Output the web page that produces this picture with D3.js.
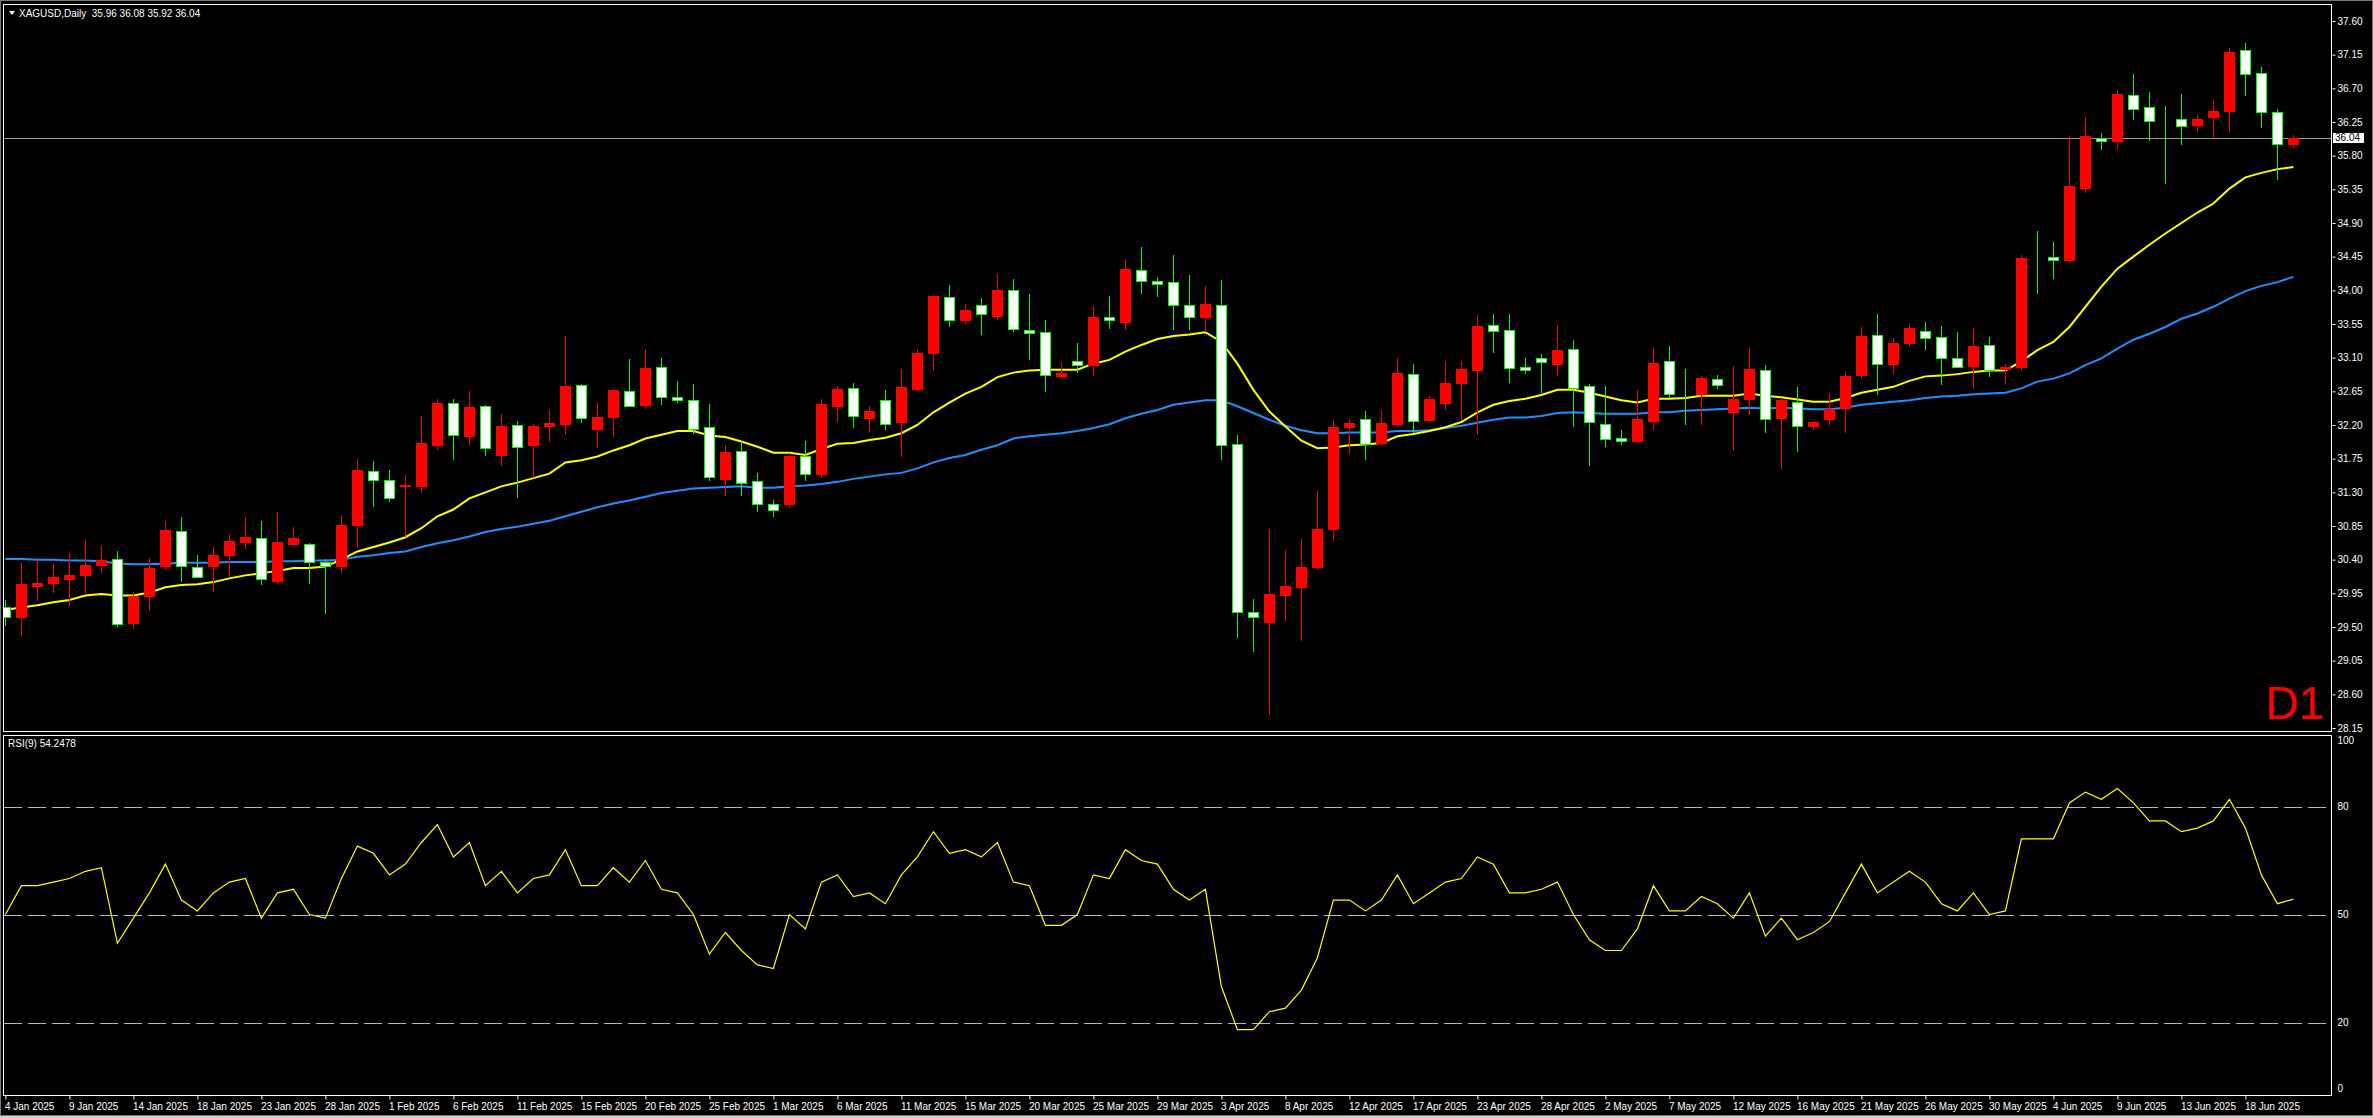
<!DOCTYPE html>
<html><head><meta charset="utf-8">
<script src="https://cdn.jsdelivr.net/npm/d3@7"></script>
<style>
html,body{margin:0;padding:0;background:#000;overflow:hidden}
text{font-family:"Liberation Sans",Arial,sans-serif}
</style></head>
<body><svg id="c" width="2373" height="1118"></svg>
<script>
// ---------------- data ----------------
const symbolTitle = "XAGUSD,Daily  35.96 36.08 35.92 36.04";
const rsiTitle = "RSI(9) 54.2478";
const dateLabels = ["4 Jan 2025","9 Jan 2025","14 Jan 2025","18 Jan 2025","23 Jan 2025","28 Jan 2025",
 "1 Feb 2025","6 Feb 2025","11 Feb 2025","15 Feb 2025","20 Feb 2025","25 Feb 2025",
 "1 Mar 2025","6 Mar 2025","11 Mar 2025","15 Mar 2025","20 Mar 2025","25 Mar 2025","29 Mar 2025",
 "3 Apr 2025","8 Apr 2025","12 Apr 2025","17 Apr 2025","23 Apr 2025","28 Apr 2025",
 "2 May 2025","7 May 2025","12 May 2025","16 May 2025","21 May 2025","26 May 2025","30 May 2025",
 "4 Jun 2025","9 Jun 2025","13 Jun 2025","18 Jun 2025"];
const priceTicks = [37.60,37.15,36.70,36.25,35.80,35.35,34.90,34.45,34.00,33.55,33.10,32.65,32.20,31.75,31.30,30.85,30.40,29.95,29.50,29.05,28.60,28.15];
const rsiTicks = [100,80,50,20,0];
const rsiLevels = [80,50,20];
const lastPrice = 36.04;

const open = [29.77,29.64,30.05,30.09,30.14,30.20,30.33,30.41,29.56,29.92,30.31,30.78,30.30,30.32,30.46,30.64,30.69,30.12,30.61,30.61,
30.37,30.31,30.86,31.58,31.47,31.38,31.39,31.93,32.50,32.05,32.45,31.80,32.20,31.93,32.19,32.22,32.73,32.14,32.31,32.66,
32.47,32.98,32.57,32.53,32.17,31.48,31.85,31.45,31.15,31.15,31.79,31.55,32.46,32.70,32.30,32.53,32.24,32.68,33.16,33.91,
33.60,33.80,33.66,34.00,33.47,33.44,32.86,33.05,33.00,33.65,33.58,34.27,34.12,34.11,33.81,33.65,33.81,31.94,29.70,29.57,
29.93,30.03,30.30,30.81,32.17,32.28,31.96,32.22,32.88,32.27,32.50,32.76,32.94,33.53,33.47,32.97,33.09,33.02,33.21,32.72,
32.22,32.02,31.99,32.26,33.05,32.63,32.61,32.82,32.38,32.55,32.94,32.30,32.51,32.18,32.28,32.43,32.87,33.40,33.02,33.29,
33.45,33.37,33.09,32.99,33.27,32.95,32.98,34.44,34.44,34.41,35.37,36.04,36.00,36.61,36.45,36.28,36.29,36.21,36.32,36.40,
37.21,36.90,36.38,35.96];
const high = [29.86,30.35,30.40,30.34,30.49,30.66,30.58,30.52,29.97,30.42,30.92,30.97,30.46,30.57,30.74,30.97,30.92,31.04,30.84,30.62,
30.41,30.98,31.75,31.72,31.60,31.53,32.32,32.55,32.55,32.65,32.47,32.35,32.25,32.21,32.40,33.39,32.75,32.49,32.68,33.08,
33.21,33.10,32.79,32.75,32.48,31.93,31.98,31.56,31.20,31.82,31.99,32.55,32.72,32.76,32.45,32.67,32.95,33.22,33.94,34.07,
33.82,33.90,34.22,34.15,33.95,33.60,33.04,33.30,33.79,33.92,34.41,34.58,34.18,34.47,34.20,34.06,34.14,32.06,29.88,30.81,
30.53,30.68,31.32,32.27,32.28,32.39,32.40,33.10,33.02,32.59,33.06,33.06,33.67,33.68,33.68,33.10,33.15,33.54,33.33,32.75,
32.72,32.13,32.67,33.23,33.26,32.95,32.85,32.87,32.99,33.23,33.00,32.55,32.71,32.26,32.63,32.91,33.51,33.69,33.36,33.55,
33.58,33.52,33.44,33.50,33.38,33.02,34.47,34.79,34.65,36.06,36.32,36.10,36.68,36.89,36.65,36.46,36.62,36.34,36.54,37.24,
37.31,36.98,36.43,36.08];
const low = [29.53,29.39,29.86,29.97,29.80,29.95,30.24,29.51,29.49,29.73,30.27,30.12,30.17,29.98,30.18,30.56,30.08,30.09,30.60,30.09,
29.69,30.23,30.57,31.12,31.19,30.71,31.30,31.88,31.74,31.95,31.80,31.67,31.24,31.51,31.98,32.08,32.24,31.91,32.05,32.46,
32.43,32.48,32.51,32.09,31.47,31.26,31.26,31.05,30.98,31.11,31.47,31.50,32.26,32.17,32.10,32.15,31.79,32.67,32.93,33.52,
33.57,33.42,33.62,33.45,33.08,32.66,32.84,32.91,32.87,33.50,33.48,33.97,33.92,33.48,33.48,33.45,31.75,29.36,29.18,28.34,
29.59,29.33,30.28,30.68,31.83,31.74,31.93,32.19,32.11,32.25,32.42,32.27,32.08,33.17,32.77,32.90,32.64,32.87,32.18,31.67,
31.92,31.95,31.98,32.15,32.57,32.22,32.22,32.69,31.87,32.35,32.11,31.63,31.85,32.15,32.22,32.11,32.83,32.61,32.89,33.26,
33.22,32.75,32.97,32.69,32.86,32.76,32.94,33.96,34.17,34.38,35.31,35.89,35.89,36.29,36.01,35.43,35.96,36.13,36.05,36.13,
36.61,36.18,35.49,35.92];
const close = [29.63,30.08,30.09,30.17,30.20,30.33,30.39,29.54,29.92,30.29,30.80,30.31,30.17,30.46,30.65,30.70,30.14,30.64,30.69,30.37,
30.32,30.86,31.60,31.47,31.23,31.40,31.96,32.49,32.06,32.44,31.89,32.19,31.91,32.19,32.23,32.72,32.29,32.31,32.67,32.46,
32.96,32.58,32.54,32.15,31.50,31.84,31.43,31.14,31.06,31.78,31.54,32.48,32.68,32.32,32.39,32.22,32.71,33.16,33.92,33.61,
33.74,33.68,34.00,33.48,33.43,32.87,32.90,33.00,33.64,33.60,34.29,34.13,34.08,33.80,33.64,33.82,31.93,29.70,29.64,29.94,
30.05,30.30,30.81,32.17,32.23,31.95,32.23,32.89,32.26,32.55,32.76,32.95,33.52,33.45,32.96,32.93,33.04,33.20,32.70,32.24,
32.01,31.98,32.28,33.03,32.62,32.63,32.83,32.74,32.55,32.95,32.28,32.53,32.18,32.24,32.41,32.86,33.39,33.01,33.30,33.50,
33.36,33.09,32.98,33.26,32.94,32.97,34.43,34.44,34.40,35.39,36.06,35.99,36.62,36.42,36.26,36.28,36.19,36.29,36.40,37.19,
36.89,36.38,35.95,36.04];
const maFast = [29.73,29.76,29.79,29.83,29.86,29.92,29.94,29.92,29.92,29.96,30.03,30.06,30.07,30.10,30.15,30.19,30.22,30.25,30.29,30.29,
30.31,30.40,30.51,30.57,30.63,30.70,30.82,30.98,31.07,31.22,31.30,31.38,31.43,31.49,31.55,31.70,31.73,31.78,31.86,31.93,
32.02,32.07,32.12,32.12,32.06,32.04,31.98,31.91,31.83,31.83,31.80,31.88,31.95,31.96,32.00,32.03,32.09,32.20,32.37,32.50,
32.62,32.71,32.84,32.90,32.93,32.94,32.94,32.94,33.02,33.07,33.18,33.27,33.35,33.39,33.41,33.44,33.31,33.02,32.67,32.38,
32.18,31.99,31.89,31.90,31.93,31.94,31.96,32.05,32.08,32.12,32.17,32.24,32.37,32.47,32.52,32.55,32.60,32.67,32.67,32.63,
32.58,32.53,32.50,32.55,32.55,32.56,32.59,32.59,32.59,32.62,32.59,32.57,32.54,32.51,32.51,32.56,32.63,32.67,32.71,32.79,
32.85,32.86,32.88,32.91,32.93,32.93,33.05,33.20,33.31,33.51,33.78,34.05,34.29,34.45,34.61,34.76,34.90,35.04,35.16,35.36,
35.51,35.57,35.62,35.65];
const maSlow = [30.41,30.41,30.40,30.40,30.39,30.39,30.38,30.35,30.34,30.34,30.35,30.36,30.36,30.36,30.37,30.37,30.37,30.38,30.38,30.39,
30.39,30.40,30.44,30.46,30.49,30.51,30.57,30.62,30.66,30.71,30.77,30.81,30.84,30.88,30.92,30.98,31.04,31.10,31.15,31.19,
31.24,31.29,31.32,31.35,31.36,31.37,31.38,31.36,31.36,31.38,31.39,31.41,31.44,31.48,31.51,31.54,31.56,31.62,31.70,31.76,
31.80,31.87,31.93,32.02,32.05,32.07,32.09,32.12,32.16,32.21,32.29,32.35,32.40,32.47,32.50,32.53,32.53,32.45,32.36,32.27,
32.19,32.13,32.09,32.09,32.10,32.10,32.10,32.12,32.12,32.13,32.16,32.19,32.23,32.27,32.30,32.30,32.32,32.36,32.37,32.36,
32.35,32.35,32.35,32.37,32.37,32.39,32.40,32.41,32.42,32.43,32.42,32.43,32.42,32.41,32.41,32.43,32.47,32.49,32.51,32.53,
32.56,32.58,32.59,32.61,32.62,32.63,32.69,32.78,32.82,32.89,33.00,33.09,33.22,33.34,33.42,33.51,33.62,33.69,33.78,33.89,
33.99,34.06,34.11,34.18];
const rsi = [50,58,58,59,60,62,63,42,49,56,64,54,51,56,59,60,49,56,57,50,
49,60,69,67,61,64,70,75,66,70,58,62,56,60,61,68,58,58,63,59,
65,57,56,50,39,45,40,36,35,50,46,59,61,55,56,53,61,66,73,67,
68,66,70,59,58,47,47,50,61,60,68,65,64,57,54,57,30,18,18,23,
24,29,38,54,54,51,54,61,53,56,59,60,66,64,56,56,57,59,50,43,
40,40,46,58,51,51,55,53,49,56,44,49,43,45,48,56,64,56,59,62,
59,53,51,56,50,51,71,71,71,81,84,82,85,81,76,76,73,74,76,82,
74,61,53,54.25];

// ---------------- layout ----------------
const svg = d3.select('#c');
const PL = 3.5, PR = 2331.5, MT = 4.5, MB = 731.5, RT = 735.5, RB = 1095.5;
const n = close.length;
const x = d3.scaleLinear().domain([0, n - 1]).range([5.4, 5.4 + 16 * (n - 1)]);
const y = d3.scaleLinear().domain([28.15, 37.60]).range([728, 21]);
const yr = d3.scaleLinear().domain([0, 100]).range([1094.5, 734.5]);

svg.append('rect').attr('width', 2373).attr('height', 1118).attr('fill', '#000');
// outer frame
svg.append('rect').attr('x', 0.5).attr('y', 0.5).attr('width', 2372).attr('height', 1115)
  .attr('fill', 'none').attr('stroke', '#7a7a7a');
svg.append('rect').attr('x', 0).attr('y', 1116).attr('width', 2373).attr('height', 2).attr('fill', '#d4d0c8');

const defs = svg.append('defs');
defs.append('clipPath').attr('id', 'cm').append('rect').attr('x', 4).attr('y', 5).attr('width', 2327).attr('height', 726);
defs.append('clipPath').attr('id', 'cr').append('rect').attr('x', 4).attr('y', 736).attr('width', 2327).attr('height', 359);

// panels
svg.append('rect').attr('x', PL).attr('y', MT).attr('width', PR - PL).attr('height', MB - MT)
  .attr('fill', 'none').attr('stroke', '#fff');
svg.append('rect').attr('x', PL).attr('y', RT).attr('width', PR - PL).attr('height', RB - RT)
  .attr('fill', 'none').attr('stroke', '#fff');

const gm = svg.append('g').attr('clip-path', 'url(#cm)');

// last price line
gm.append('line').attr('x1', 4).attr('x2', PR).attr('y1', Math.round(y(lastPrice)) + 0.5).attr('y2', Math.round(y(lastPrice)) + 0.5)
  .attr('stroke', '#9a9a9a').attr('stroke-width', 1);

// moving averages
const lineP = d3.line().x((d, i) => x(i)).y(d => y(d));
gm.append('path').datum(maSlow).attr('d', lineP).attr('fill', 'none').attr('stroke', '#1e90ff').attr('stroke-width', 2);
gm.append('path').datum(maFast).attr('d', lineP).attr('fill', 'none').attr('stroke', '#ffff00').attr('stroke-width', 2);

// candles
const idx = d3.range(n);
const cg = gm.append('g');
idx.forEach(i => {
  const cx = Math.round(x(i));
  const up = close[i] > open[i];
  const col = up ? '#ff0000' : '#00ff00';
  cg.append('line').attr('x1', cx + 0.5).attr('x2', cx + 0.5)
    .attr('y1', Math.round(y(high[i]))).attr('y2', Math.round(y(low[i])) + 1)
    .attr('stroke', col).attr('stroke-width', 1);
  const t = Math.round(y(Math.max(open[i], close[i])));
  const b = Math.round(y(Math.min(open[i], close[i])));
  if (up) {
    cg.append('rect').attr('x', cx - 5).attr('y', t).attr('width', 11).attr('height', Math.max(1, b - t + 1))
      .attr('fill', '#ff0000');
  } else {
    cg.append('rect').attr('x', cx - 4.5).attr('y', t + 0.5).attr('width', 10).attr('height', Math.max(0, b - t))
      .attr('fill', '#ffffff').attr('stroke', '#00ff00').attr('stroke-width', 1);
  }
});

// D1 label
svg.append('text').attr('x', 2324).attr('y', 719).attr('text-anchor', 'end')
  .attr('fill', '#ff0000').style('font-size', '46px').text('D1');

// title
svg.append('path').attr('d', 'M9,11 L15,11 L12,15 Z').attr('fill', '#fff');
svg.append('text').attr('x', 19).attr('y', 16.5).attr('fill', '#fff').style('font-size', '10px')
  .attr('xml:space', 'preserve').style('white-space', 'pre').text(symbolTitle);

// price axis
const ax = d3.axisRight(y).tickValues(priceTicks).tickFormat(d3.format('.2f')).tickSize(3).tickPadding(2);
const gax = svg.append('g').attr('transform', `translate(${PR + 1},0)`).call(ax);
gax.select('.domain').remove();
gax.selectAll('line').attr('stroke', '#fff');
gax.selectAll('text').attr('fill', '#fff').style('font-size', '10px').style('font-family', '"Liberation Sans",Arial,sans-serif');

// last price label
const ly = y(lastPrice);
svg.append('rect').attr('x', 2333).attr('y', Math.round(ly) - 5).attr('width', 31).attr('height', 10).attr('fill', '#fff');
svg.append('text').attr('x', 2335).attr('y', ly).attr('dy', '0.32em').attr('fill', '#000')
  .style('font-size', '10px').text(d3.format('.2f')(lastPrice));

// RSI panel
const gr = svg.append('g').attr('clip-path', 'url(#cr)');
gr.selectAll('line.lvl').data(rsiLevels).join('line').attr('class', 'lvl')
  .attr('x1', 4).attr('x2', PR).attr('y1', d => Math.round(yr(d)) + 0.5).attr('y2', d => Math.round(yr(d)) + 0.5)
  .attr('stroke', '#b8b8b8').attr('stroke-dasharray', '18,6');
const lineR = d3.line().x((d, i) => x(i)).y(d => yr(d));
gr.append('path').datum(rsi).attr('d', lineR).attr('fill', 'none').attr('stroke', '#ffff00').attr('stroke-width', 1.2);

svg.append('text').attr('x', 8).attr('y', 746.5).attr('fill', '#fff').style('font-size', '10px').text(rsiTitle);

const axr = d3.axisRight(yr).tickValues(rsiTicks).tickSize(0).tickPadding(6);
const garx = svg.append('g').attr('transform', `translate(${PR},0)`).call(axr);
garx.select('.domain').remove();
garx.selectAll('text').attr('fill', '#fff').style('font-size', '10px').style('font-family', '"Liberation Sans",Arial,sans-serif')
  .attr('y', d => d === 100 ? 6 : (d === 0 ? -6 : 0));

// date axis
const dateIdx = dateLabels.map((d, k) => k * 4);
const axd = d3.axisBottom(x).tickValues(dateIdx).tickFormat((d, k) => dateLabels[k]).tickSize(4).tickPadding(3);
const gd = svg.append('g').attr('transform', `translate(0,${RB})`).call(axd);
gd.select('.domain').remove();
gd.selectAll('line').attr('stroke', '#fff');
gd.selectAll('text').attr('fill', '#fff').style('font-size', '10px').style('font-family', '"Liberation Sans",Arial,sans-serif')
  .attr('text-anchor', 'start').attr('x', -1);
</script>
</body></html>
